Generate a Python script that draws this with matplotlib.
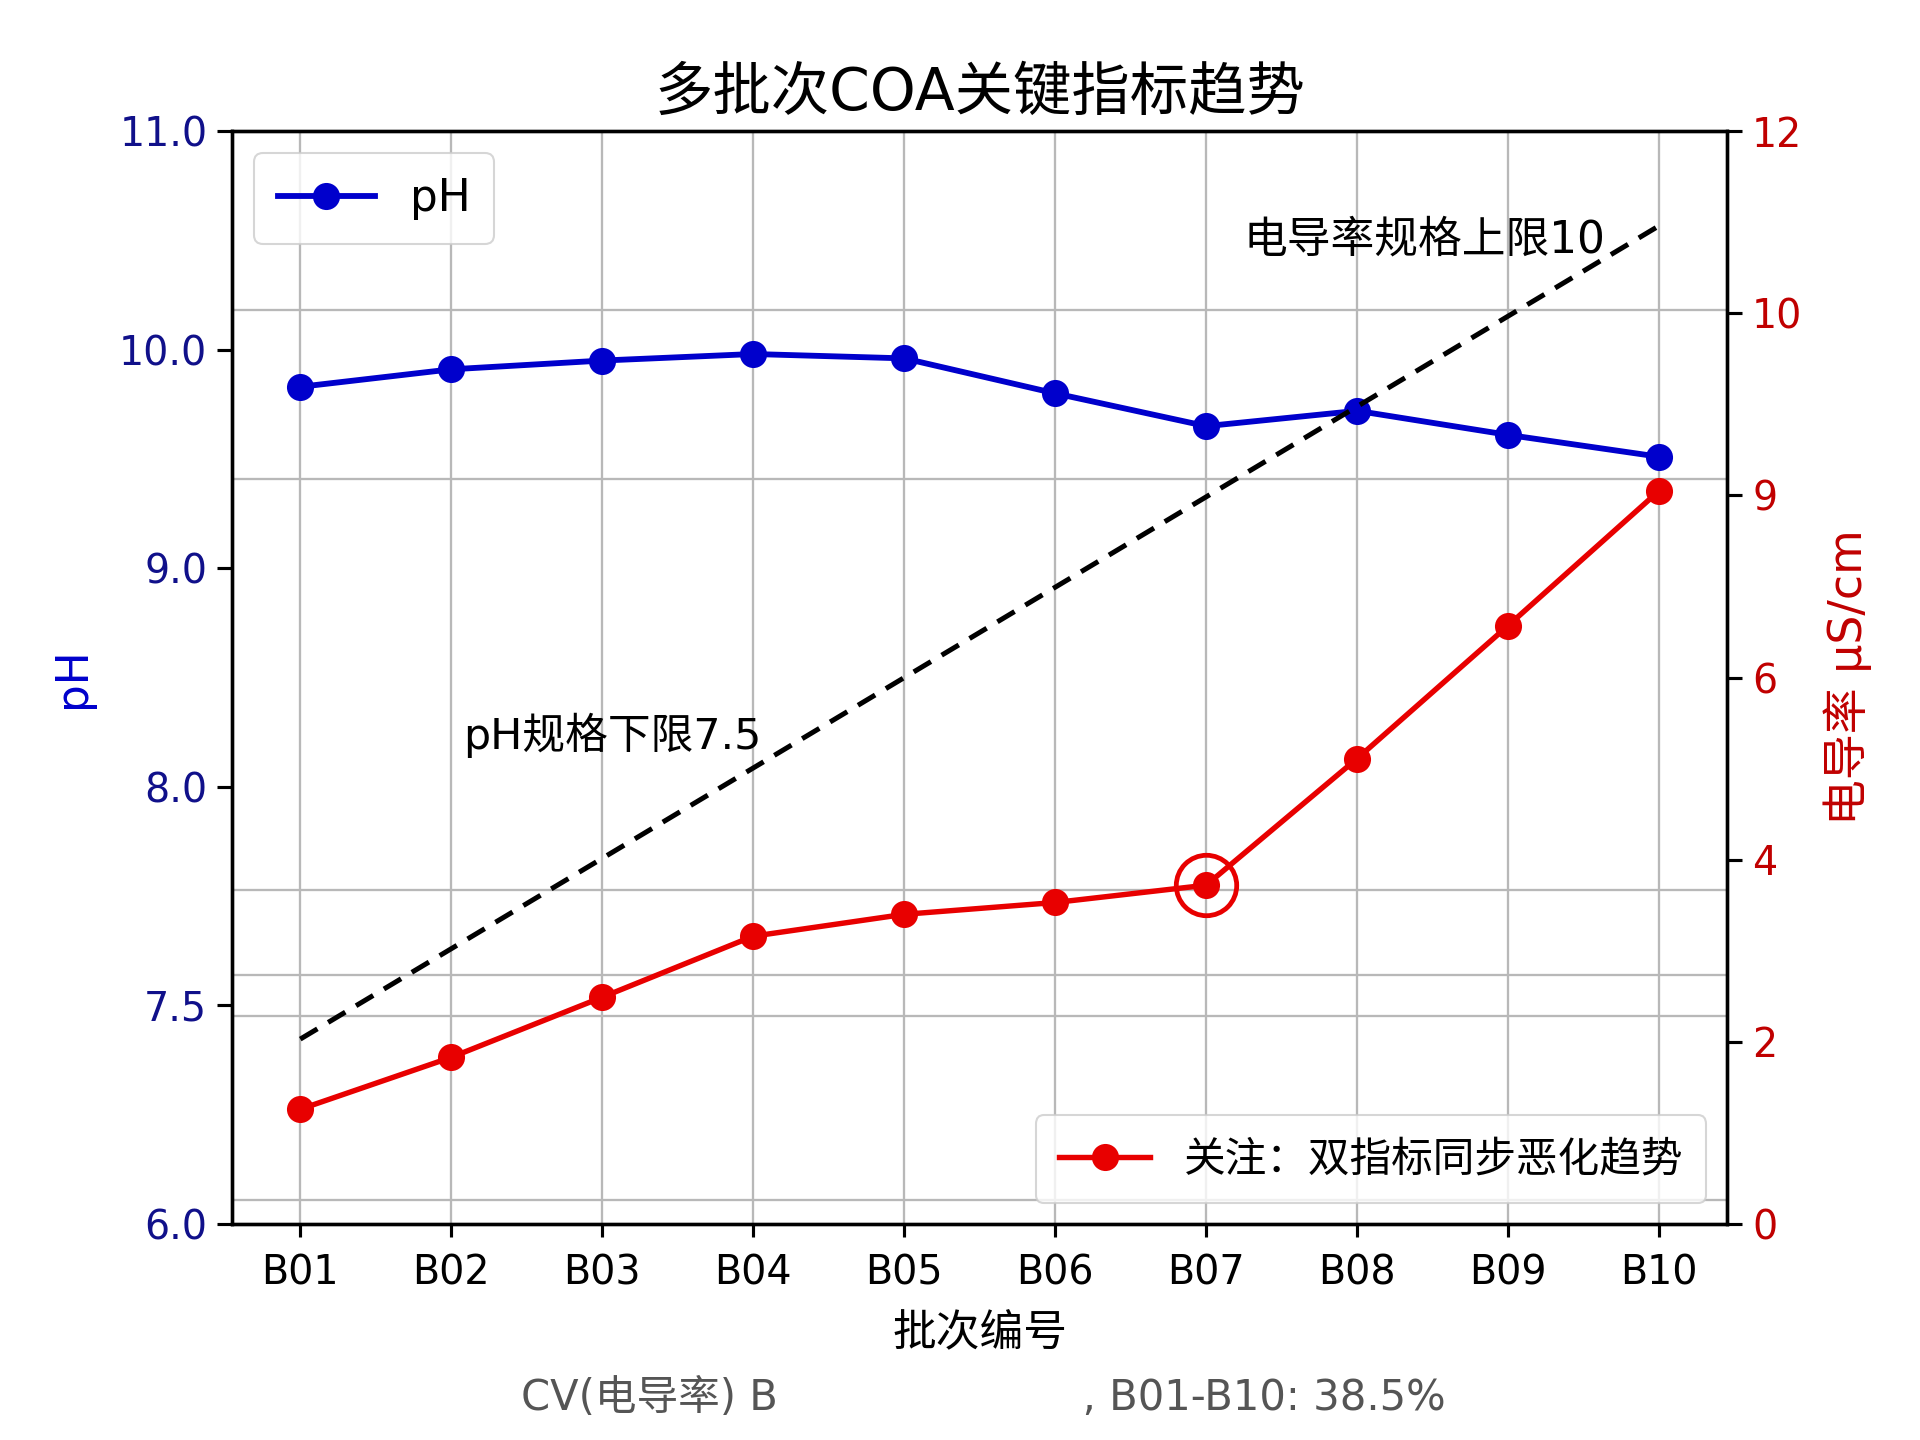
import matplotlib
matplotlib.use('Agg')
import matplotlib.pyplot as plt
import numpy as np

plt.rcParams['font.family'] = ['DejaVu Sans', 'Noto Sans CJK SC']
plt.rcParams['axes.unicode_minus'] = False

# Data
batches = ['B01', 'B02', 'B03', 'B04', 'B05', 'B06', 'B07', 'B08', 'B09', 'B10']
ph_values = [9.83, 9.91, 9.95, 9.98, 9.96, 9.80, 9.65, 9.72, 9.61, 9.51]
cond_values = [1.26, 1.83, 2.49, 3.16, 3.40, 3.53, 3.72, 5.11, 6.57, 8.05]
trend_ends = [2.03, 10.96]          # dashed line at B01 and B10
focus_batch = 'B07'

ph_ticks = [6, 7, 8, 9, 10, 11]
ph_ticklabels = ['6.0', '7.5', '8.0', '9.0', '10.0', '11.0']
cond_ticks = [0, 2, 4, 6, 8, 10, 12]
cond_ticklabels = ['0', '2', '4', '6', '9', '10', '12']

# horizontal grid lines as they appear in the picture (pH units)
grid_rows = [10.18, 9.41, 9.0, 8.0, 7.53, 7.14, 6.95, 6.11]

BLUE = '#0000cc'
DARK_BLUE = '#10108a'
RED = '#e80000'
DARK_RED = '#c00000'
FS = 19

fig = plt.figure(figsize=(12.8, 9.6), dpi=150)
ax = fig.add_axes([0.121, 0.15, 0.7785, 0.759])
ax2 = ax.twinx()

x = np.arange(len(batches))
ax.plot(x, ph_values, color=BLUE, lw=2.8, marker='o', markersize=12, label='pH', zorder=3)
ax2.plot([x[0], x[-1]], trend_ends, color='black', lw=2.4, ls=(0, (4, 2.5)))
ax2.plot(x, cond_values, color=RED, lw=2.6, marker='o', markersize=12,
         label='关注：双指标同步恶化趋势')
i = batches.index(focus_batch)
ax2.plot([x[i]], [cond_values[i]], marker='o', markersize=29, markerfacecolor='none',
         markeredgecolor=RED, markeredgewidth=2.3, ls='none')

ax2.text(6.25, 10.8, '电导率规格上限10', fontsize=21, ha='left', va='center')
ax2.text(1.08, 5.37, 'pH规格下限7.5', fontsize=20.5, ha='left', va='center')

ax.set_xlim(-0.45, 9.45)
ax.set_ylim(6, 11)
ax2.set_ylim(0, 12)
ax.set_xticks(x)
ax.set_xticklabels(batches, fontsize=FS)
ax.set_yticks(ph_ticks)
ax.set_yticklabels(ph_ticklabels, fontsize=FS, color=DARK_BLUE)
ax2.set_yticks(cond_ticks)
ax2.set_yticklabels(cond_ticklabels, fontsize=FS, color=DARK_RED)
ax.set_yticks(grid_rows, minor=True)
ax.tick_params(axis='y', which='minor', length=0)
ax.tick_params(axis='y', which='major', length=7, width=1.5, pad=5)
ax.tick_params(axis='x', length=6, width=1.5, pad=8)
ax2.tick_params(axis='y', length=7, width=1.5, pad=5)

ax.grid(axis='x', color='#b8b8b8', lw=1.1)
ax.grid(axis='y', which='minor', color='#b8b8b8', lw=1.1)
ax.set_axisbelow(True)
for spine in list(ax.spines.values()) + list(ax2.spines.values()):
  spine.set_linewidth(1.6)

ax.set_xlabel('批次编号', fontsize=21, labelpad=9)
ax.set_ylabel('pH', fontsize=21, color=BLUE, labelpad=12)
ax2.set_ylabel('电导率 μS/cm', fontsize=22, color=DARK_RED, labelpad=10)
ax.set_title('多批次COA关键指标趋势', fontsize=28, pad=10)

ax.legend(loc='upper left', fontsize=21, handlelength=2.2, borderpad=0.55)
ax2.legend(loc='lower right', fontsize=20, handlelength=2.2, borderpad=0.55)

fig.text(0.512, 0.029, 'CV(电导率) B' + ' ' * 23 + ', B01-B10: 38.5%',
         fontsize=20, color='#555555', ha='center', va='center')

fig.savefig('out.png', dpi=150)
